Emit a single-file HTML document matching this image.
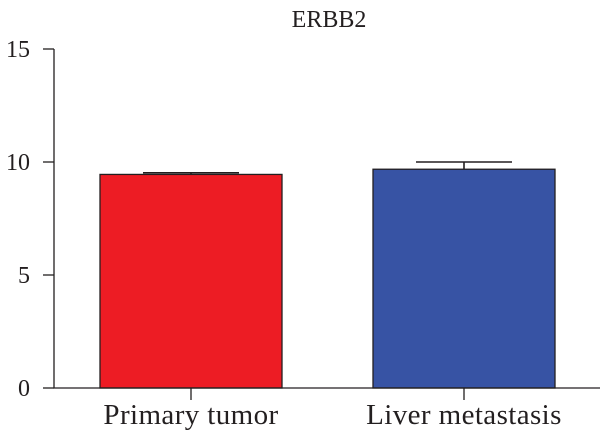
<!DOCTYPE html>
<html><head><meta charset="utf-8"><style>body{margin:0;background:#fff}svg{display:block;font-family:"Liberation Serif",serif}</style></head>
<body>
<svg id="c" width="600" height="439"></svg>
<script>
const categories=["Primary tumor","Liver metastasis"];
const values=[9.45,9.68];
const errors=[0.07,0.32];
const colors=["#ed1c24","#3753a4"];
const yTicks=[0,5,10,15];
const svg=document.getElementById('c');
const NS='http://www.w3.org/2000/svg';
function y(v){return 388-v*22.6;}
function x(i){return 191+i*273;}
function mk(t,a,p){const e=document.createElementNS(NS,t);for(const k in a)e.setAttribute(k,a[k]);(p||svg).appendChild(e);return e;}
const title=mk('text',{x:329,y:27,'text-anchor':'middle','font-size':24,fill:'#231f20'});
title.textContent='ERBB2';


categories.forEach((c,i)=>{
  const cx=x(i);
  const b=mk('rect',{x:cx-91,y:y(values[i]),width:182,height:y(0)-y(values[i]),fill:colors[i],stroke:'#231f20','stroke-width':1.3});
  
  
  const e=mk('path',{d:`M${cx} ${y(values[i])}V${y(values[i]+errors[i])}M${cx-48} ${y(values[i]+errors[i])}H${cx+48}`,stroke:'#231f20','stroke-width':1.6,fill:'none'});
  
  
  mk('line',{x1:cx,x2:cx,y1:388,y2:400,stroke:'#231f20','stroke-width':1.3});
  const t=mk('text',{x:cx,y:424,'text-anchor':'middle','font-size':29,'letter-spacing':'0.4',fill:'#231f20'});
  t.textContent=c;
  
  
});
const ax=mk('path',{d:`M54 ${y(15)}V388H600`,stroke:'#231f20','stroke-width':1.3,fill:'none'});


yTicks.forEach(v=>{
  mk('line',{x1:43,x2:54,y1:y(v),y2:y(v),stroke:'#231f20','stroke-width':1.3});
  const t=mk('text',{x:30,y:y(v)+8,'text-anchor':'end','font-size':24,fill:'#231f20'});
  t.textContent=v;
  
  
});
</script>
</body></html>
